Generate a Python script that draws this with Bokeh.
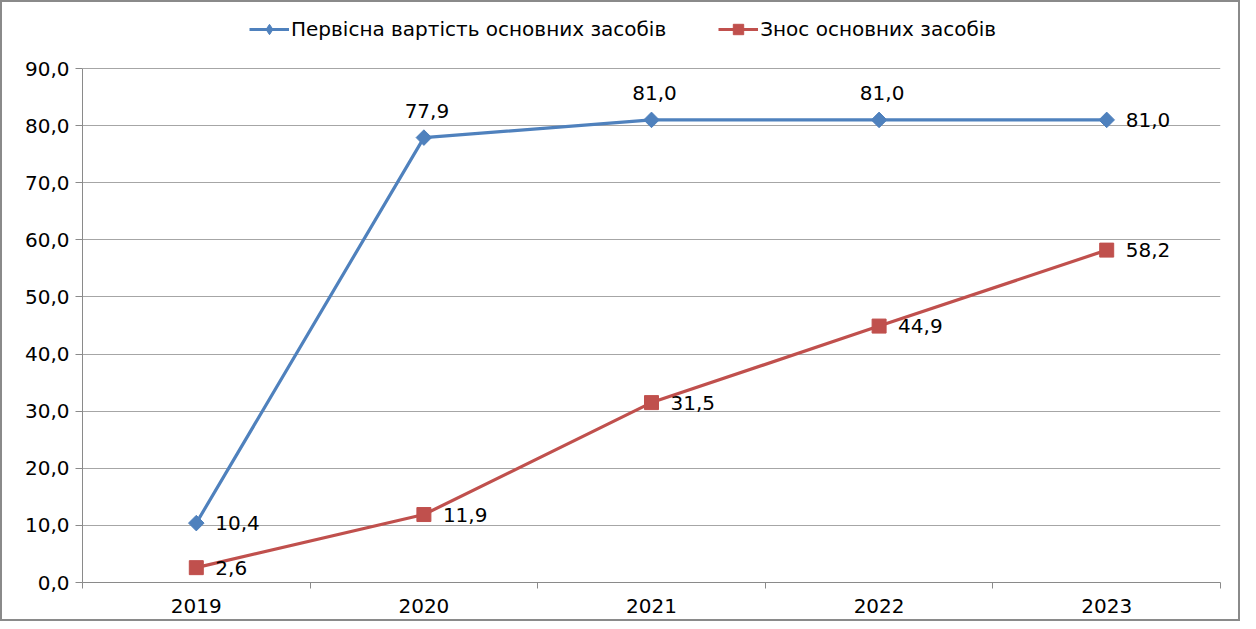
import math
from bokeh.plotting import figure
from bokeh.models import (ColumnDataSource, FixedTicker, Legend, LegendItem, LabelSet, Range1d)
from bokeh.core.properties import value
from bokeh.embed import file_html
from bokeh.resources import INLINE

years = ["2019", "2020", "2021", "2022", "2023"]
initial_cost = [10.4, 77.9, 81.0, 81.0, 81.0]
depreciation = [2.6, 11.9, 31.5, 44.9, 58.2]
series_names = ["Первісна вартість основних засобів", "Знос основних засобів"]
y_ticks = [0, 10, 20, 30, 40, 50, 60, 70, 80, 90]

BLUE = "#4F81BD"
RED = "#C0504D"
FONT = "DejaVu Sans"
FS = "20px"

def fmt(v):
    return f"{v:.1f}".replace(".", ",")

xs = [i + 1 for i in range(len(years))]

# frame spans from near the top of the figure so the legend can sit inside it;
# the value axis itself stops at 90
W, H = 1240, 621
top_border, bottom_border = 6, 41
axis_px = H - 66 - bottom_border          # pixels for 0..90
frame_px = H - top_border - bottom_border
y_end = y_ticks[-1] * frame_px / axis_px

p = figure(width=W, height=H, output_backend="svg", toolbar_location=None,
           x_range=Range1d(0.5, len(years) + 0.5), y_range=Range1d(0, y_end),
           min_border_left=80, min_border_right=22, min_border_top=top_border,
           min_border_bottom=bottom_border)
p.styles = {"border": "2px solid #8a8a8a", "box-sizing": "border-box"}
p.outline_line_color = None
p.background_fill_color = "white"

# axes
p.xaxis.ticker = FixedTicker(ticks=xs, minor_ticks=[x + 0.5 for x in [0] + xs])
p.xaxis.major_label_overrides = {x: y for x, y in zip(xs, years)}
p.xaxis.major_tick_line_color = None
p.xaxis.minor_tick_line_color = "#8a8a8a"
p.xaxis.minor_tick_out = 6
p.xaxis.minor_tick_in = 0
p.xaxis.axis_line_color = "#8a8a8a"
p.xaxis.major_label_text_font = FONT
p.xaxis.major_label_text_font_size = FS
p.xaxis.major_label_text_color = "#000000"
p.xaxis.major_label_standoff = 10

p.yaxis.ticker = FixedTicker(ticks=y_ticks)
p.yaxis.bounds = (y_ticks[0], y_ticks[-1])
p.yaxis.major_label_overrides = {t: fmt(t) for t in y_ticks}
p.yaxis.major_tick_line_color = "#8a8a8a"
p.yaxis.major_tick_out = 7
p.yaxis.major_tick_in = 0
p.yaxis.minor_tick_line_color = None
p.yaxis.axis_line_color = "#8a8a8a"
p.yaxis.major_label_text_font = FONT
p.yaxis.major_label_text_font_size = FS
p.yaxis.major_label_text_color = "#000000"
p.yaxis.major_label_standoff = 6

p.xgrid.grid_line_color = None
p.ygrid.grid_line_color = "#a6a6a6"
p.ygrid.grid_line_width = 1

# series
src1 = ColumnDataSource(dict(x=xs, y=initial_cost, lab=[fmt(v) for v in initial_cost]))
src2 = ColumnDataSource(dict(x=xs, y=depreciation, lab=[fmt(v) for v in depreciation]))

l1 = p.line("x", "y", source=src1, line_color=BLUE, line_width=3.2)
# diamond drawn beneath the rotated square: it gives the legend a diamond key
m1_key = p.scatter("x", "y", source=src1, marker="diamond", size=11,
                   fill_color=BLUE, line_color=BLUE)
m1 = p.scatter("x", "y", source=src1, marker="square", angle=math.pi / 4, size=11,
               fill_color=BLUE, line_color=BLUE)
l2 = p.line("x", "y", source=src2, line_color=RED, line_width=3.2)
m2 = p.scatter("x", "y", source=src2, marker="square", size=14, fill_color=RED, line_color=RED)

# blue labels: first and last to the right, middle ones above
side = ColumnDataSource(dict(x=[xs[0], xs[-1]], y=[initial_cost[0], initial_cost[-1]],
                             lab=[fmt(initial_cost[0]), fmt(initial_cost[-1])]))
top = ColumnDataSource(dict(x=xs[1:-1], y=initial_cost[1:-1],
                            lab=[fmt(v) for v in initial_cost[1:-1]]))
common = dict(text="lab", text_baseline="middle", text_font=value(FONT),
              text_font_size=value(FS), text_color="#000000")
p.add_layout(LabelSet(x="x", y="y", source=side, x_offset=19, y_offset=0,
                      text_align="left", **common))
p.add_layout(LabelSet(x="x", y="y", source=top, x_offset=3, y_offset=27,
                      text_align="center", **common))
p.add_layout(LabelSet(x="x", y="y", source=src2, x_offset=19, y_offset=0,
                      text_align="left", **common))

legend = Legend(items=[LegendItem(label=series_names[0], renderers=[l1, m1_key]),
                       LegendItem(label=series_names[1], renderers=[l2, m2])],
                orientation="horizontal", location=(167, 540),
                label_text_font=FONT, label_text_font_size=FS, label_text_color="#000000",
                glyph_width=40, glyph_height=26, label_standoff=2, spacing=52,
                border_line_color=None, background_fill_alpha=0, padding=4, margin=0)
p.add_layout(legend, "center")

open("out.html", "w").write(file_html(p, INLINE))
